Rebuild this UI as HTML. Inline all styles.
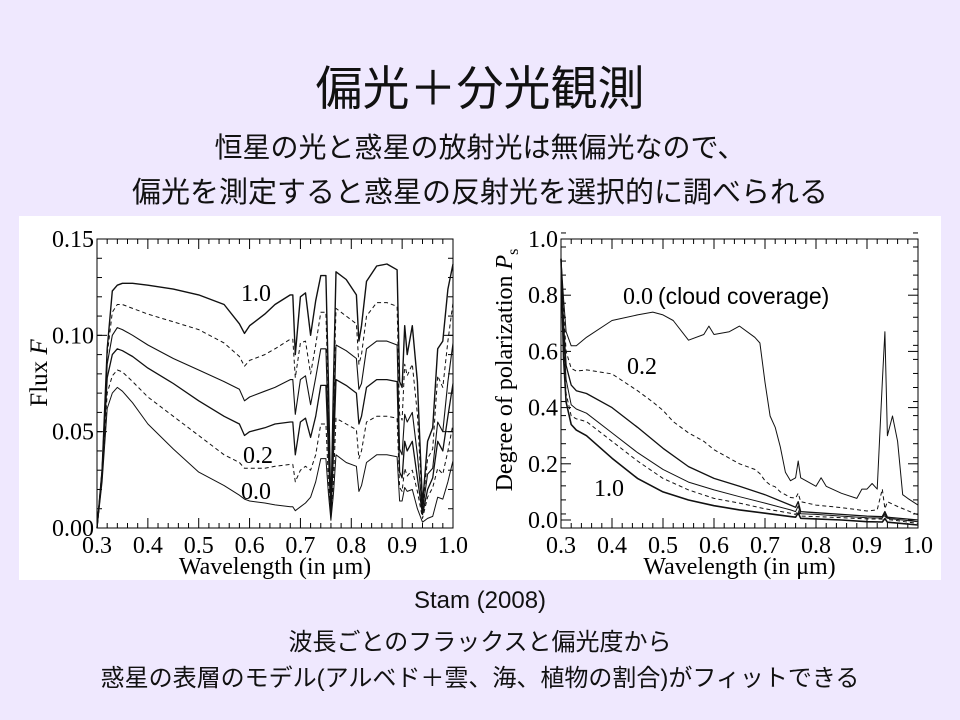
<!DOCTYPE html>
<html><head><meta charset="utf-8">
<style>
body{margin:0;width:960px;height:720px;background:#efe8fe;overflow:hidden;font-family:"Liberation Sans","Noto Sans CJK JP",sans-serif;position:relative}
.t{position:absolute;left:0;width:960px;text-align:center;color:#111;white-space:nowrap}
#panel{position:absolute;left:19px;top:216px;width:922px;height:364px;background:#fff}
svg text{font-family:"Liberation Serif",serif}
</style></head><body>
<div class="t" style="top:50px;font-size:47px">偏光＋分光観測</div>
<div class="t" style="top:126px;font-size:28px">恒星の光と惑星の放射光は無偏光なので、</div>
<div class="t" style="top:169px;font-size:29px">偏光を測定すると惑星の反射光を選択的に調べられる</div>
<div id="panel"></div>
<svg id="chart" width="960" height="720" style="position:absolute;left:0;top:0"></svg>
<div class="t" style="top:587px;font-size:24px">Stam (2008)</div>
<div class="t" style="top:622px;font-size:24px">波長ごとのフラックスと偏光度から</div>
<div class="t" style="top:658px;font-size:24px">惑星の表層のモデル(アルベド＋雲、海、植物の割合)がフィットできる</div>
<script>
// ---- Flux chart data ----
const fluxWl=[0.30,0.31,0.32,0.33,0.34,0.35,0.37,0.40,0.45,0.50,0.55,0.58,0.59,0.60,0.63,0.65,0.68,0.685,0.69,0.70,0.71,0.72,0.73,0.74,0.75,0.755,0.76,0.765,0.77,0.79,0.81,0.815,0.82,0.83,0.85,0.87,0.89,0.895,0.90,0.905,0.91,0.92,0.93,0.94,0.95,0.96,0.97,0.98,0.99,1.00];
const flux10=[0.000,0.030,0.093,0.123,0.126,0.127,0.127,0.126,0.124,0.121,0.116,0.106,0.101,0.105,0.111,0.116,0.121,0.121,0.090,0.120,0.122,0.100,0.118,0.131,0.131,0.076,0.007,0.076,0.133,0.129,0.121,0.097,0.105,0.128,0.136,0.137,0.134,0.076,0.073,0.105,0.090,0.105,0.076,0.012,0.045,0.052,0.093,0.097,0.124,0.137];
const flux08=[0.000,0.030,0.090,0.112,0.116,0.116,0.114,0.111,0.107,0.103,0.096,0.089,0.084,0.087,0.090,0.093,0.098,0.098,0.078,0.096,0.097,0.080,0.095,0.112,0.112,0.065,0.007,0.065,0.114,0.110,0.106,0.085,0.090,0.110,0.117,0.117,0.115,0.059,0.056,0.085,0.079,0.085,0.059,0.010,0.036,0.041,0.079,0.073,0.097,0.117];
const flux06=[0.000,0.030,0.085,0.100,0.104,0.103,0.100,0.095,0.088,0.082,0.076,0.072,0.066,0.068,0.071,0.073,0.077,0.077,0.059,0.077,0.079,0.064,0.078,0.093,0.093,0.050,0.006,0.050,0.095,0.092,0.088,0.072,0.075,0.093,0.097,0.097,0.095,0.041,0.038,0.059,0.055,0.060,0.038,0.009,0.028,0.031,0.055,0.050,0.076,0.096];
const flux04=[0.000,0.028,0.078,0.090,0.093,0.092,0.089,0.083,0.075,0.066,0.058,0.054,0.048,0.050,0.052,0.054,0.055,0.055,0.038,0.055,0.057,0.047,0.058,0.074,0.074,0.040,0.006,0.040,0.077,0.074,0.070,0.054,0.058,0.073,0.077,0.077,0.076,0.029,0.026,0.045,0.040,0.045,0.026,0.007,0.020,0.026,0.045,0.040,0.058,0.075];
const flux02=[0.000,0.026,0.070,0.079,0.082,0.081,0.076,0.068,0.058,0.048,0.038,0.034,0.031,0.031,0.031,0.032,0.033,0.033,0.024,0.030,0.032,0.030,0.038,0.054,0.054,0.025,0.005,0.025,0.057,0.054,0.051,0.036,0.040,0.055,0.058,0.058,0.057,0.021,0.019,0.031,0.027,0.030,0.019,0.005,0.016,0.021,0.031,0.028,0.040,0.054];
const flux00=[0.000,0.024,0.062,0.070,0.073,0.071,0.065,0.054,0.041,0.029,0.022,0.017,0.015,0.014,0.013,0.012,0.011,0.011,0.009,0.011,0.013,0.016,0.024,0.036,0.036,0.018,0.004,0.018,0.038,0.034,0.032,0.019,0.022,0.034,0.038,0.038,0.037,0.014,0.014,0.021,0.019,0.020,0.010,0.003,0.005,0.006,0.016,0.015,0.024,0.035];
const xTicks=[0.3,0.4,0.5,0.6,0.7,0.8,0.9,1.0];
const fluxTicks=[0.00,0.05,0.10,0.15];
// ---- Polarization chart data ----
const polWl0=[0.30,0.305,0.31,0.32,0.33,0.35,0.40,0.45,0.48,0.50,0.52,0.55,0.58,0.59,0.60,0.63,0.65,0.68,0.69,0.70,0.71,0.72,0.73,0.74,0.75,0.76,0.765,0.77,0.80,0.81,0.82,0.85,0.88,0.89,0.90,0.91,0.92,0.93,0.935,0.94,0.95,0.96,0.97,0.98,1.00];
const pol00=[0.93,0.79,0.67,0.62,0.62,0.65,0.71,0.73,0.74,0.73,0.71,0.64,0.66,0.69,0.66,0.67,0.69,0.65,0.63,0.49,0.37,0.33,0.26,0.17,0.14,0.15,0.21,0.15,0.12,0.15,0.12,0.095,0.077,0.11,0.11,0.13,0.11,0.49,0.67,0.30,0.37,0.28,0.09,0.077,0.053];
const polWl2=[0.30,0.305,0.31,0.32,0.33,0.35,0.40,0.45,0.48,0.50,0.52,0.55,0.58,0.60,0.63,0.65,0.68,0.69,0.70,0.71,0.72,0.73,0.74,0.75,0.76,0.765,0.77,0.80,0.85,0.90,0.92,0.93,0.935,0.94,0.96,1.00];
const pol02=[0.93,0.75,0.60,0.54,0.53,0.534,0.52,0.46,0.42,0.39,0.35,0.31,0.28,0.25,0.22,0.20,0.18,0.165,0.14,0.125,0.118,0.10,0.09,0.08,0.078,0.095,0.065,0.053,0.044,0.032,0.036,0.11,0.04,0.065,0.048,0.018];
const polWlS=[0.30,0.305,0.31,0.32,0.33,0.35,0.40,0.45,0.50,0.55,0.60,0.65,0.70,0.75,0.76,0.765,0.77,0.80,0.85,0.90,0.93,0.935,0.94,1.00];
const pol04=[0.93,0.70,0.55,0.48,0.46,0.45,0.40,0.33,0.255,0.19,0.148,0.12,0.09,0.053,0.045,0.065,0.030,0.026,0.020,0.014,0.012,0.030,0.010,0.000];
const pol06=[0.93,0.66,0.50,0.41,0.395,0.38,0.31,0.24,0.18,0.135,0.107,0.083,0.060,0.036,0.030,0.050,0.022,0.020,0.014,0.008,0.007,0.022,0.006,-0.006];
const pol08=[0.93,0.62,0.45,0.37,0.36,0.35,0.28,0.21,0.148,0.107,0.077,0.060,0.040,0.024,0.020,0.035,0.014,0.012,0.008,0.004,0.003,0.015,0.002,-0.012];
const pol10=[0.93,0.58,0.42,0.34,0.32,0.30,0.22,0.148,0.10,0.071,0.051,0.036,0.024,0.012,0.010,0.025,0.006,0.004,0.000,-0.006,-0.007,0.005,-0.008,-0.018];
const polTicks=[0.0,0.2,0.4,0.6,0.8,1.0];

const NS='http://www.w3.org/2000/svg';
const svg=document.getElementById('chart');
function mk(tag,attrs,parent){const e=document.createElementNS(NS,tag);for(const k in attrs)e.setAttribute(k,attrs[k]);(parent||svg).appendChild(e);return e;}

function axes(L,R,T,B,yMin,yMax,yMajor,yMinorStep,yFmt,prefix){
  const X=v=>L+(v-0.3)/0.7*(R-L);
  const Y=v=>B-(v-yMin)/(yMax-yMin)*(B-T);
  const g=mk('g',{});
  
  
  const fr=mk('rect',{x:L,y:T,width:R-L,height:B-T,fill:'none',stroke:'#000','stroke-width':1},g);
  
  
  for(let i=0;i<=35;i++){const v=0.3+i*0.02;const x=X(v);const maj=Math.abs((v*10)-Math.round(v*10))<1e-6;const len=maj?10:5;
    mk('line',{x1:x,x2:x,y1:B,y2:B-len,stroke:'#000'},g);mk('line',{x1:x,x2:x,y1:T,y2:T+len,stroke:'#000'},g);}
  const n=Math.round((yMax-yMin)/yMinorStep);
  for(let i=0;i<=n;i++){const v=yMin+i*yMinorStep;const y=Y(v);
    mk('line',{x1:L,x2:L+5,y1:y,y2:y,stroke:'#000'},g);mk('line',{x1:R,x2:R-5,y1:y,y2:y,stroke:'#000'},g);}
  yMajor.forEach(v=>{const y=Y(v);mk('line',{x1:L,x2:L+10,y1:y,y2:y,stroke:'#000'},g);mk('line',{x1:R,x2:R-10,y1:y,y2:y,stroke:'#000'},g);
    const t=mk('text',{x:L-3,y:y+8,'text-anchor':'end','font-size':24},g);t.textContent=yFmt(v);
    
    });
  xTicks.forEach(v=>{const t=mk('text',{x:X(v),y:B+25,'text-anchor':'middle','font-size':24},g);t.textContent=v.toFixed(1);
    
    });
  const xt=mk('text',{x:(L+R)/2,y:B+46,'text-anchor':'middle','font-size':24},g);xt.textContent='Wavelength (in μm)';
  
  
  return {X,Y};
}
function series(ax,wl,vals,dash,w,name){
  const d=wl.map((x,i)=>(i?'L':'M')+ax.X(x).toFixed(1)+' '+ax.Y(vals[i]).toFixed(1)).join(' ');
  const p=mk('path',{d:d,fill:'none',stroke:'#111','stroke-width':w,'stroke-dasharray':dash?'4 3':'none','stroke-linejoin':'round'});
  
  
}
function label(x,y,txt,name,fam,size){const t=mk('text',{x:x,y:y,'font-size':size||24});if(fam)t.setAttribute('style','font-family:'+fam);t.textContent=txt;
  
  return t;}

// Left chart
const a1=axes(97,453,239,528,0,0.15,fluxTicks,0.01,v=>v.toFixed(2),'flux');
series(a1,fluxWl,flux10,false,1.4,'flux-line-cloud-1.0');
series(a1,fluxWl,flux08,true,1,'flux-line-cloud-0.8');
series(a1,fluxWl,flux06,false,1.1,'flux-line-cloud-0.6');
series(a1,fluxWl,flux04,false,1.3,'flux-line-cloud-0.4');
series(a1,fluxWl,flux02,true,1,'flux-line-cloud-0.2');
series(a1,fluxWl,flux00,false,1,'flux-line-cloud-0.0');
label(241,301,'1.0','flux-label-1.0');
label(243,463,'0.2','flux-label-0.2');
label(241,499,'0.0','flux-label-0.0');
const yt1=mk('text',{transform:'translate(47,373) rotate(-90)','text-anchor':'middle','font-size':25});
yt1.innerHTML='Flux  <tspan font-style="italic">F</tspan>';



// Right chart
const a2=axes(561,918,239,528,-0.0285,1.0,polTicks,0.05,v=>v.toFixed(1),'polarization');
series(a2,polWl0,pol00,false,1,'pol-line-cloud-0.0');
series(a2,polWl2,pol02,true,1,'pol-line-cloud-0.2');
series(a2,polWlS,pol04,false,1.3,'pol-line-cloud-0.4');
series(a2,polWlS,pol06,false,1,'pol-line-cloud-0.6');
series(a2,polWlS,pol08,true,1,'pol-line-cloud-0.8');
series(a2,polWlS,pol10,false,1.6,'pol-line-cloud-1.0');
label(623,304,'0.0','pol-label-0.0');
label(658,304,'(cloud coverage)','pol-label-cloud-coverage','"Liberation Sans",sans-serif',23);
label(627,374,'0.2','pol-label-0.2');
label(594,496,'1.0','pol-label-1.0');
const yt2=mk('text',{transform:'translate(512,370) rotate(-90)','text-anchor':'middle','font-size':24});
yt2.innerHTML='Degree of polarization <tspan font-style="italic">P</tspan><tspan font-size="16" dy="6">s</tspan>';


</script>
</body></html>
